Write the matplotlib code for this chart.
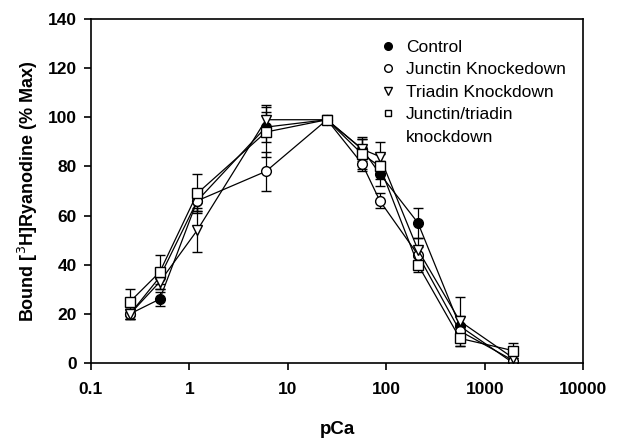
import matplotlib
matplotlib.use("Agg")
import matplotlib.pyplot as plt
import numpy as np
from matplotlib.lines import Line2D

plt.rcParams['font.family'] = ['Liberation Sans', 'DejaVu Sans']

ca = [0.25, 0.5, 1.2, 6, 25, 57, 86, 210, 560, 1950]

control = [20, 26, 66, 96, 99, 87, 77, 57, 15, 0]
control_err = [2, 3, 4, 6, 1, 4, 5, 6, 4, 1]

junctin = [20, 35, 66, 78, 99, 81, 66, 44, 13, 1]
junctin_err = [2, 3, 4, 8, 1, 3, 3, 3, 3, 1]

triadin = [20, 33, 54, 99, 99, 87, 84, 46, 17, 2]
triadin_err = [2, 3, 9, 6, 1, 5, 6, 5, 10, 2]

double = [25, 37, 69, 94, 99, 85, 80, 40, 10, 5]
double_err = [5, 7, 8, 10, 1, 6, 5, 3, 3, 3]

labels = ["Control", "Junctin Knockedown", "Triadin Knockdown", "Junctin/triadin\nknockdown"]

fig = plt.figure(figsize=(6.21, 4.47), dpi=100)
ax = fig.add_axes([0.1465, 0.188, 0.7925, 0.7695])

series = [
    (control, control_err, 'o', 'black'),
    (junctin, junctin_err, 'o', 'white'),
    (triadin, triadin_err, 'v', 'white'),
    (double, double_err, 's', 'white'),
]
for (vals, err, m, fc), lab in zip(series, labels):
    ax.errorbar(ca, vals, yerr=err, fmt='-', color='black', lw=0.9,
                marker=m, markersize=7 if m != 's' else 6.5, markerfacecolor=fc,
                markeredgecolor='black', markeredgewidth=1.0,
                ecolor='black', elinewidth=0.9, capsize=3.5, capthick=0.9,
                label=lab)

ax.set_xscale('log')
ax.set_xlim(0.1, 10000)
ax.set_ylim(0, 140)
ax.set_xticks([0.1, 1, 10, 100, 1000, 10000])
ax.set_xticklabels(["0.1", "1", "10", "100", "1000", "10000"])
ax.xaxis.set_minor_locator(matplotlib.ticker.NullLocator())
ax.set_yticks(np.arange(0, 141, 20))
ax.tick_params(axis='both', direction='out', length=5, width=1.2, labelsize=12.5)
ax.tick_params(axis='x', pad=9)
ax.tick_params(axis='y', pad=5)
for t in ax.get_xticklabels() + ax.get_yticklabels():
    t.set_fontweight('bold')
for s in ax.spines.values():
    s.set_linewidth(1.2)

ax.set_xlabel("pCa", fontsize=13.5, fontweight='bold', labelpad=17)
ax.set_ylabel("Bound [$^{3}$H]Ryanodine (% Max)", fontsize=13, fontweight='bold', labelpad=6)

hs = [Line2D([], [], ls='none', marker=m, markersize=5.5 if m != 's' else 5,
             markerfacecolor=fc, markeredgecolor='black') for (_, _, m, fc) in series]
hs.append(Line2D([], [], ls='none', marker=None))
leg_labels = labels[:3] + labels[3].split("\n")
leg = ax.legend(hs, leg_labels, loc='upper left', bbox_to_anchor=(0.555, 0.985), frameon=False,
                fontsize=12.5, handletextpad=0.5, labelspacing=0.42, handlelength=1.0)

fig.savefig("out.png", dpi=100)
